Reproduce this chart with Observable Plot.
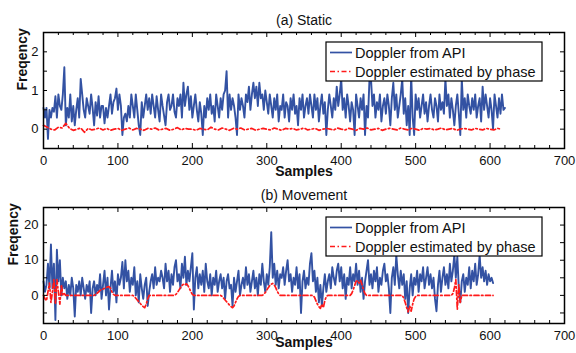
<!DOCTYPE html>
<html>
<head>
<meta charset="utf-8">
<script src="https://cdn.jsdelivr.net/npm/d3@7"></script>
<script src="https://cdn.jsdelivr.net/npm/@observablehq/plot@0.6"></script>
<style>
  html, body { margin: 0; padding: 0; background: #fff; }
  #root { position: relative; width: 576px; height: 353px; overflow: hidden; font-family: "Liberation Sans", Arial, sans-serif; }
  .panel { position: absolute; left: 0; width: 576px; }
</style>
</head>
<body>
<div id="root"></div>
<script>
// ---------------- DATA ----------------
const seriesNames = ["Doppler from API", "Doppler estimated by phase"];
const panelTitles = ["(a) Static", "(b) Movement"];
const xLabel = "Samples";
const yLabel = "Freqency";
const xTickLabels = [0, 100, 200, 300, 400, 500, 600, 700];
const xMinorTicks = [20,40,60,80,120,140,160,180,220,240,260,280,320,340,360,380,420,440,460,480,520,540,560,580,620,640,660,680];
const yTickLabelsA = [0, 1, 2];
const yTicksA = [0, 0.5, 1, 1.5, 2];
const yTickLabelsB = [0, 10, 20];
const yTicksB = [-5, 0, 5, 10, 15, 20];

// (a) Static — API doppler, every 2nd sample (0..620)
const staticApiStep = 2;
const staticApi = [
  0.55,0.3,0.55,-0.25,0.5,0.3,0.55,0.45,0.85,0.3,0.9,0.6,0.5,0.9,1.6,0.1,0.55,0.3,0.9,0.2,
  0.6,0.1,0.5,0.8,0.3,1.3,0.9,0.5,0.3,0.8,0.6,0.4,0.9,0.55,0.1,0.7,0.35,0.85,0.3,0.6,
  0.6,0.15,0.55,0.3,0.6,0.9,0.4,0.7,0.8,1.05,0.5,0.9,0.6,-0.15,0.3,0.4,0.2,0.6,0.3,0.9,
  0.6,0.3,0.9,0.5,0.1,-0.15,0.7,0.3,0.6,0.9,0.5,0.8,0.4,0.9,0.6,0.3,0.85,0.5,0.2,0.9,
  0.6,0.35,0.1,0.7,0.9,0.5,0.6,0.9,0.45,0.3,0.8,0.6,0.9,0.3,1.2,0.6,0.9,1.1,0.5,0.85,
  0.3,0.6,0.9,0.5,0.2,0.7,0.4,-0.15,0.6,0.3,0.8,0.5,0.9,0.4,0.6,0.2,0.9,0.6,0.3,0.8,
  0.5,0.9,1.0,1.5,0.3,0.9,0.5,0.8,0.6,0.3,-0.15,0.9,0.5,0.8,0.6,0.3,0.9,0.7,1.1,0.5,
  0.9,1.2,0.8,1.1,0.6,1.2,0.8,0.9,0.5,1.0,0.7,0.4,0.9,0.6,0.3,0.8,0.5,0.9,0.2,0.6,
  0.5,0.9,0.3,0.7,0.6,0.2,0.8,0.5,0.9,0.4,0.6,0.1,0.8,0.5,0.9,0.3,0.6,0.8,0.4,0.9,
  0.6,0.3,0.9,0.5,0.8,0.2,0.6,0.9,0.4,0.7,-0.15,0.5,0.9,0.6,0.3,0.8,0.5,1.1,0.6,0.9,
  1.3,0.5,0.8,0.3,0.9,0.6,0.2,0.7,0.5,-0.15,0.9,0.6,0.3,0.8,0.5,0.9,-0.15,0.6,0.3,1.3,
  1.3,0.6,0.9,0.3,0.7,0.5,0.9,0.2,0.6,0.8,0.4,0.9,0.6,0.1,0.8,1.2,0.5,0.9,0.3,0.6,
  0.9,1.3,0.4,0.8,0.1,0.6,-0.15,1.4,0.3,-0.15,0.9,0.5,0.8,0.3,0.6,0.9,0.4,0.7,0.2,0.6,
  0.9,0.5,0.3,0.8,0.6,0.2,0.9,0.5,0.7,0.4,1.3,0.6,0.9,0.3,0.8,0.5,0.1,0.6,0.9,0.4,
  -0.15,1.3,0.5,0.8,0.3,0.9,0.6,0.4,0.8,0.5,0.9,0.3,0.6,0.8,0.2,1.1,0.5,0.9,0.6,0.3,
  0.8,0.5,0.0,0.9,0.6,0.3,0.8,0.4,0.9,0.5,0.55
];

// (a) Static — phase doppler, every 5th sample (0..615)
const staticPhaseStep = 5;
const staticPhase = [
  0.1,0.05,0.0,-0.02,0.05,0.03,0.15,0.02,-0.03,0.0,0.03,-0.08,0.02,-0.02,0.0,0.03,-0.02,0.02,-0.03,0.0,
  0.02,-0.03,0.0,0.03,-0.02,0.02,0.0,-0.03,0.02,0.0,0.03,-0.02,0.0,0.02,-0.03,0.0,0.04,-0.02,0.02,0.0,
  0.0,-0.03,0.02,0.0,-0.02,0.05,0.0,-0.02,0.03,0.0,-0.03,0.02,0.0,0.03,-0.02,0.0,0.02,-0.03,0.0,0.02,
  0.0,-0.02,0.03,0.0,-0.03,0.02,0.0,0.02,-0.02,0.0,0.03,-0.02,0.0,0.02,-0.03,0.0,0.02,0.0,-0.02,0.03,
  0.0,-0.02,0.02,0.0,-0.03,0.02,0.0,0.03,-0.02,0.0,0.02,-0.03,0.0,0.02,0.0,-0.02,0.03,0.0,-0.02,0.02,
  0.0,-0.03,0.02,0.0,0.02,-0.02,0.0,0.03,-0.02,0.0,0.02,-0.03,0.0,0.02,0.0,-0.02,0.02,0.0,-0.02,0.02,
  0.0,-0.02,0.02,0.0
];

// (b) Movement — API doppler, every 2nd sample (0..604)
const moveApiStep = 2;
const moveApi = [
  4,1,3,9,2,14.5,2,9,-7,13,4,10,0,5,2,4,-1,3,0,5,
  2,-6,3,1,4,0,5,2,-1,3,1,4,-5,2,4,0,3,1,6,-1,
  3,7,0,5,-4,2,7,1,4,-2,6,3,5,9.5,2,10,4,7,1,5,
  3,8,0,4,-2,6,2,-1,3,5,-3,1,4,6,2,8,3,5,4,7,
  5,2,9,4,7,1,6,3,8,10,4,6,2,9,5,11,3,7,4,8,
  12,-4,5,8,2,6,3,7,1,9,4,2,6,0,5,3,7,1,4,6,
  2,5,-1,4,6,2,3,-3,5,1,4,7,0,3,5,2,8,3,6,1,
  4,7,2,5,0,6,3,9,4,1,6,3,8,18,5,9,3,7,2,6,
  5,8,3,7,10,4,6,1,5,3,8,2,6,-5,4,7,2,5,3,9,
  12,4,7,1,5,-2,3,-3,2,6,1,4,6,2,8,5,3,7,9,4,
  8,2,6,-1,5,3,8,2,6,4,9,3,7,1,5,-1,4,7,10,3,
  6,2,7,4,8,1,5,3,7,9,4,6,2,-5,5,8,3,11.5,6,2,
  7,3,6,-1,4,-5,2,6,0,5,3,7,1,6,4,8,2,5,8,3,
  6,2,5,-1,-4.5,3,7,1,5,8,3,6,2,9,4,7,11.5,5,11,2,
  -2,4,6,1,5,3,8,2,7,4,9,3,6,11.5,5,8,4,7,3,6,
  4,5,3.5
];

// (b) Movement — phase doppler, every 2nd sample (0..604)
const movePhaseStep = 2;
const movePhase = [
  0,-1,-1.5,1,3.5,-2,1,4.5,-2.5,4.5,1,-2.5,3,0,0.5,0,0,0,0,0,
  0,0,0,0,0,0,0,0,0,0,0,0,0,0,0,0.3,0.6,1,1.4,1.7,
  1.8,2,2.2,2.4,2.5,2,1,0.3,0,0,0,0,0,0,0,0,0,0,0,0,
  0,-0.3,-0.8,-1.3,-1.8,-2.3,-2.8,-3.2,-3.5,-2.5,-1,0,0,0,0,0,0,0,0,0,
  0,0,0,0,0,0,0,0,0,0.3,0.8,1.5,2.2,2.8,3.2,3,3.3,2.8,2,1,
  0.3,0,0,0,0,0,0,0,0,0,0,0,0,0,0,0,0,0,0,0,
  -0.3,-0.8,-1.3,-1.8,-2.3,-2.8,-3.2,-3.5,-3,-2,-1,-0.3,0,0,0,0,0,0,0,0,
  0,0,0,0,0,0,0,0,0.3,0.8,1.5,2.2,2.8,3.2,3.4,3,2.2,1.2,0.4,0,
  0,0,0,0,0,0,0,0,0,0,0,0,0,0,0,0,0,0,0,0,
  0,0,-0.5,-1.5,-2.5,-3.2,-3.7,-2.5,-3.5,-1.5,-0.3,0,0,0,0,0,0,0,0,0,
  0,0,0,0,0,0,0,0.5,1.5,2.8,4,4.2,3.5,4.3,3,1.5,0.5,0,0,0,
  0,0,0,0,0,0,0,0,0,0,0,0,0,0,0,0,0,0,0,0,
  0,0,-0.8,-2,-3.5,-4.7,-3,-4.5,-2.5,-1,-0.3,0,0,0,0,0,0,0,0,0,
  0,0,0,0,0,0,0,0,0,0,0,0,0,0,0,0.5,2,4.5,-4,3,
  -2,0,0,0,0,0,0,0,0,0,0,0,0,0,0,0,0,0,0,0,
  0,0,0
];

// ---------------- STYLE ----------------
const blue = "#3352a3";
const red = "#ff1a1a";
const dash = "5,2.5,1.5,2.5";
const W = 576;
const font = "Liberation Sans, Arial, sans-serif";

const toPts = (vals, step) => vals.map((v, i) => ({x: i * step, y: v}));

function panel({top, height, mt, mb, yDomain, yTicks, yLabels, api, phase, title, ylabDx, xlabDy}) {
  const ml = 43, mr = 12;
  const innerW = W - ml - mr;
  const innerH = height - mt - mb;
  const fig = Plot.plot({
    width: W, height,
    marginLeft: ml, marginRight: mr, marginTop: mt, marginBottom: mb,
    style: {fontFamily: font, fontSize: "13px", background: "transparent", color: "#111", overflow: "visible"},
    x: {domain: [0, 700]},
    y: {domain: yDomain},
    marks: [
      Plot.line(api, {x: "x", y: "y", stroke: blue, strokeWidth: 1.9}),
      Plot.line(phase, {x: "x", y: "y", stroke: red, strokeWidth: 1.7, strokeDasharray: dash}),
      // inward ticks
      Plot.ruleX(xTickLabels, {x: d => d, insetTop: innerH - 5, stroke: "#000", strokeWidth: 1}),
      Plot.ruleX(xTickLabels, {x: d => d, insetBottom: innerH - 5, stroke: "#000", strokeWidth: 1}),
      Plot.ruleX(xMinorTicks, {x: d => d, insetTop: innerH - 3, stroke: "#000", strokeWidth: 1}),
      Plot.ruleX(xMinorTicks, {x: d => d, insetBottom: innerH - 3, stroke: "#000", strokeWidth: 1}),
      Plot.ruleY(yTicks, {y: d => d, insetRight: innerW - 4, stroke: "#000", strokeWidth: 1}),
      Plot.ruleY(yTicks, {y: d => d, insetLeft: innerW - 4, stroke: "#000", strokeWidth: 1}),
      Plot.frame({stroke: "#000", strokeWidth: 1.5}),
      Plot.axisX({ticks: xTickLabels, tickSize: 0, tickPadding: 7, fontSize: 13, label: null, tickFormat: d => String(d)}),
      Plot.axisY({ticks: yLabels, tickSize: 0, tickPadding: 5, fontSize: 13, label: null, tickFormat: d => String(d)}),
      Plot.text([title], {frameAnchor: "top", dy: -17, fontSize: 14, fill: "#111"}),
      Plot.text([xLabel], {frameAnchor: "bottom", dy: xlabDy, fontSize: 14, fontWeight: "bold", fill: "#111"}),
      Plot.text([yLabel], {frameAnchor: "left", dx: ylabDx, rotate: -90, fontSize: 14, fontWeight: "bold", fill: "#111"})
    ]
  });
  fig.classList.add("panel");
  fig.style.top = top + "px";
  // legend
  const g = d3.select(fig).append("g").attr("transform", `translate(326,${mt + 10})`)
    .attr("text-anchor", "start");
  g.append("rect").attr("width", 216).attr("height", 39).attr("fill", "#fff").attr("stroke", "#000").attr("stroke-width", 1.2);
  const rows = [{c: blue, d: null, w: 1.7}, {c: red, d: dash, w: 1.6}];
  rows.forEach((r, i) => {
    const yy = 10.5 + i * 19;
    const ln = g.append("line").attr("x1", 4).attr("x2", 26).attr("y1", yy).attr("y2", yy)
      .attr("stroke", r.c).attr("stroke-width", r.w);
    if (r.d) ln.attr("stroke-dasharray", r.d);
    g.append("text").attr("x", 29).attr("y", yy).attr("dy", "0.35em").attr("text-anchor", "start")
      .attr("font-family", font).attr("font-size", 14.5).attr("fill", "#111").text(seriesNames[i]);
  });
  return fig;
}

const root = document.getElementById("root");
root.appendChild(panel({
  top: 0, height: 176, mt: 32, mb: 28, yDomain: [-0.5, 2.5],
  yTicks: yTicksA, yLabels: yTickLabelsA,
  api: toPts(staticApi, staticApiStep), phase: toPts(staticPhase, staticPhaseStep),
  title: panelTitles[0], ylabDx: -21, xlabDy: 27
}));
root.appendChild(panel({
  top: 175, height: 178, mt: 32, mb: 30, yDomain: [-8, 25],
  yTicks: yTicksB, yLabels: yTickLabelsB,
  api: toPts(moveApi, moveApiStep), phase: toPts(movePhase, movePhaseStep),
  title: panelTitles[1], ylabDx: -30, xlabDy: 23
}));
</script>
</body>
</html>
